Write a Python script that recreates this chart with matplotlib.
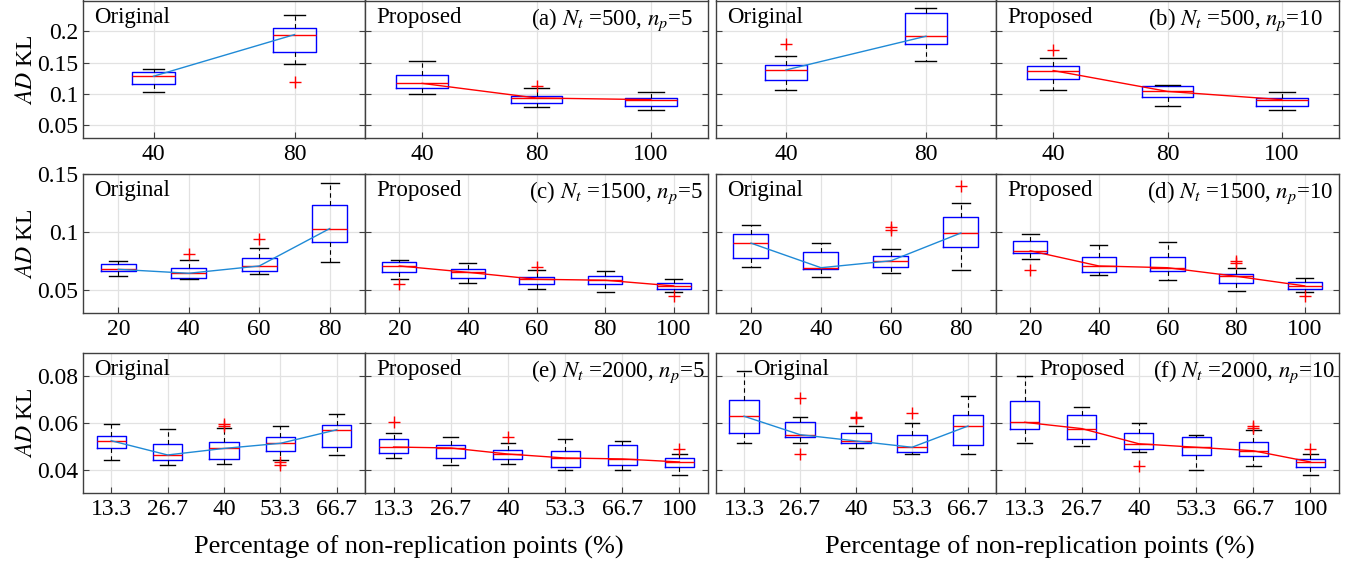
import numpy as np
import matplotlib
matplotlib.use('Agg')
import matplotlib.pyplot as plt

plt.rcParams['font.family'] = 'Liberation Serif'
plt.rcParams['mathtext.fontset'] = 'stix'

# box stats per box: [whisker low, q1, median, q3, whisker high]
# row 1 (Nt = 500)
a_orig_box = [[0.1032, 0.1158, 0.1284, 0.1348, 0.1400],
              [0.1474, 0.1663, 0.1947, 0.2047, 0.2258]]
a_orig_out = [[], [0.1185]]
a_prop_box = [[0.1000, 0.1090, 0.1170, 0.1310, 0.1520],
              [0.0790, 0.0858, 0.0937, 0.0974, 0.1095],
              [0.0748, 0.0816, 0.0911, 0.0932, 0.1032]]
a_prop_out = [[], [0.1132], []]
b_orig_box = [[0.1068, 0.1226, 0.1384, 0.1469, 0.1605],
              [0.1527, 0.1790, 0.1921, 0.2295, 0.2363]]
b_orig_out = [[0.1805], []]
b_prop_box = [[0.1069, 0.1237, 0.1374, 0.1453, 0.1580],
              [0.0811, 0.0947, 0.1042, 0.1121, 0.1137],
              [0.0748, 0.0811, 0.0911, 0.0932, 0.1032]]
b_prop_out = [[0.1695], [], []]

# row 2 (Nt = 1500)
c_orig_box = [[0.0620, 0.0666, 0.0677, 0.0720, 0.0749],
              [0.0591, 0.0606, 0.0643, 0.0686, 0.0760],
              [0.0637, 0.0666, 0.0706, 0.0771, 0.0857],
              [0.0737, 0.0914, 0.1029, 0.1229, 0.1423]]
c_orig_out = [[], [0.0811], [0.0940], []]
c_prop_box = [[0.0591, 0.0657, 0.0706, 0.0740, 0.0760],
              [0.0563, 0.0600, 0.0651, 0.0680, 0.0734],
              [0.0511, 0.0551, 0.0591, 0.0609, 0.0669],
              [0.0483, 0.0549, 0.0583, 0.0617, 0.0666],
              [0.0477, 0.0509, 0.0534, 0.0560, 0.0594]]
c_prop_out = [[0.0549], [], [0.0694], [], [0.0451]]
d_orig_box = [[0.0700, 0.0771, 0.0903, 0.0980, 0.1063],
              [0.0614, 0.0677, 0.0691, 0.0823, 0.0906],
              [0.0643, 0.0697, 0.0751, 0.0794, 0.0851],
              [0.0671, 0.0866, 0.0991, 0.1129, 0.1246]]
d_orig_out = [[], [], [0.1043, 0.1014], [0.1400]]
d_prop_box = [[0.0769, 0.0814, 0.0837, 0.0920, 0.0983],
              [0.0631, 0.0651, 0.0706, 0.0783, 0.0886],
              [0.0586, 0.0660, 0.0691, 0.0786, 0.0911],
              [0.0494, 0.0557, 0.0617, 0.0634, 0.0691],
              [0.0477, 0.0511, 0.0534, 0.0566, 0.0600]]
d_prop_out = [[0.0669], [], [], [0.0751, 0.0729], [0.0449]]

# row 3 (Nt = 2000)
e_orig_box = [[0.0443, 0.0493, 0.0524, 0.0544, 0.0597],
              [0.0421, 0.0443, 0.0463, 0.0511, 0.0574],
              [0.0426, 0.0447, 0.0491, 0.0517, 0.0579],
              [0.0440, 0.0481, 0.0513, 0.0539, 0.0587],
              [0.0463, 0.0497, 0.0571, 0.0591, 0.0640]]
e_orig_out = [[], [], [0.0597, 0.0586], [0.0432, 0.0422], []]
e_prop_box = [[0.0449, 0.0473, 0.0497, 0.0531, 0.0557],
              [0.0421, 0.0451, 0.0493, 0.0506, 0.0539],
              [0.0423, 0.0446, 0.0467, 0.0486, 0.0514],
              [0.0397, 0.0413, 0.0450, 0.0481, 0.0531],
              [0.0400, 0.0420, 0.0446, 0.0504, 0.0523],
              [0.0376, 0.0410, 0.0433, 0.0449, 0.0467]]
e_prop_out = [[0.0603], [], [0.0540], [], [], [0.0490]]
f_orig_box = [[0.0513, 0.0556, 0.0629, 0.0697, 0.0821],
              [0.0514, 0.0540, 0.0550, 0.0604, 0.0626],
              [0.0491, 0.0514, 0.0523, 0.0557, 0.0589],
              [0.0467, 0.0476, 0.0496, 0.0549, 0.0600],
              [0.0466, 0.0504, 0.0587, 0.0636, 0.0714]]
f_orig_out = [[], [0.0709, 0.0469], [0.0627, 0.0621], [0.0641], []]
f_prop_box = [[0.0514, 0.0573, 0.0603, 0.0694, 0.0803],
              [0.0500, 0.0531, 0.0576, 0.0634, 0.0670],
              [0.0476, 0.0490, 0.0511, 0.0559, 0.0601],
              [0.0397, 0.0463, 0.0496, 0.0540, 0.0549],
              [0.0417, 0.0457, 0.0481, 0.0517, 0.0571],
              [0.0376, 0.0410, 0.0433, 0.0447, 0.0466]]
f_prop_out = [[], [], [0.0414], [], [0.0589, 0.0579], [0.0489]]

# tick labels
x_row1_orig = ['40', '80']
x_row1_prop = ['40', '80', '100']
x_row2_orig = ['20', '40', '60', '80']
x_row2_prop = ['20', '40', '60', '80', '100']
x_row3_orig = ['13.3', '26.7', '40', '53.3', '66.7']
x_row3_prop = ['13.3', '26.7', '40', '53.3', '66.7', '100']

row_ylim = [(0.03, 0.249), (0.03, 0.15), (0.03, 0.09)]
row_yticks = [[0.05, 0.1, 0.15, 0.2], [0.05, 0.1, 0.15], [0.04, 0.06, 0.08]]

notes = ['(a) $N_t$ =500, $n_p$=5', '(b) $N_t$ =500, $n_p$=10',
         '(c) $N_t$ =1500, $n_p$=5', '(d) $N_t$ =1500, $n_p$=10',
         '(e) $N_t$ =2000, $n_p$=5', '(f) $N_t$ =2000, $n_p$=10']

panels = [
    [(a_orig_box, a_orig_out, x_row1_orig), (a_prop_box, a_prop_out, x_row1_prop),
     (b_orig_box, b_orig_out, x_row1_orig), (b_prop_box, b_prop_out, x_row1_prop)],
    [(c_orig_box, c_orig_out, x_row2_orig), (c_prop_box, c_prop_out, x_row2_prop),
     (d_orig_box, d_orig_out, x_row2_orig), (d_prop_box, d_prop_out, x_row2_prop)],
    [(e_orig_box, e_orig_out, x_row3_orig), (e_prop_box, e_prop_out, x_row3_prop),
     (f_orig_box, f_orig_out, x_row3_orig), (f_prop_box, f_prop_out, x_row3_prop)],
]

# layout in pixels
W, H = 1355, 564
col_left = [83, 365, 716, 996]
col_w = [282, 343, 280, 343]
row_top = [0.5, 174, 353]
row_bot = [138, 313, 493]
# box widths (data units) per row for orig / prop
box_w = [(0.30, 0.45), (0.5, 0.5), (0.52, 0.51)]
# label offsets in pixels from the panel edge
name_dx = [[11, 11, 11, 11], [11, 11, 11, 11], [11, 11, 37, 43]]
note_dx = [[15, 16], [5, 6], [3, 4]]

fig = plt.figure(figsize=(W / 100, H / 100), dpi=100)

for r in range(3):
    for c in range(4):
        boxes, outs, labels = panels[r][c]
        ax = fig.add_axes([col_left[c] / W, 1 - row_bot[r] / H,
                           col_w[c] / W, (row_bot[r] - row_top[r]) / H])
        is_orig = c % 2 == 0
        bw = box_w[r][0] if is_orig else box_w[r][1]
        stats = []
        for b, o in zip(boxes, outs):
            stats.append(dict(whislo=b[0], q1=b[1], med=b[2], q3=b[3],
                              whishi=b[4], fliers=o))
        pos = np.arange(1, len(boxes) + 1)
        ax.bxp(stats, positions=pos, widths=bw, capwidths=bw * 0.5,
               boxprops=dict(color='b', lw=1.0),
               medianprops=dict(color='r', lw=1.0),
               whiskerprops=dict(color='k', lw=0.8, linestyle=(0, (4, 3))),
               capprops=dict(color='k', lw=1.0),
               flierprops=dict(marker='+', markeredgecolor='r', markersize=9,
                               markeredgewidth=1.0, linestyle='none'),
               manage_ticks=False)
        meds = [b[2] for b in boxes]
        ax.plot(pos, meds, color='#1f8ad6' if is_orig else 'r', lw=1.0, zorder=5)

        ax.set_xlim(0.5, len(boxes) + 0.5)
        ax.set_ylim(row_ylim[r])
        ax.set_xticks(pos)
        ax.set_xticklabels(labels)
        ax.set_yticks(row_yticks[r])
        ax.set_yticklabels(['%g' % v for v in row_yticks[r]])
        ax.grid(True, color='#e2e2e2', lw=0.9)
        ax.set_axisbelow(True)
        ax.tick_params(direction='in', length=4, width=0.8, colors='#404040',
                       labelcolor='black', labelsize=17, top=False, right=True)
        ax.tick_params(axis='x', pad=4.5)
        ax.tick_params(axis='y', pad=3.5)
        if c != 0:
            ax.tick_params(labelleft=False)
        for s in ax.spines.values():
            s.set_color('#404040')
            s.set_linewidth(1.0)

        ax.annotate('Original' if is_orig else 'Proposed', xy=(0, 1),
                    xycoords='axes fraction', xytext=(name_dx[r][c] * 0.72, -4.5),
                    textcoords='offset points', ha='left', va='top', fontsize=16.5)
        if not is_orig:
            ax.annotate(notes[r * 2 + c // 2], xy=(1, 1), xycoords='axes fraction',
                        xytext=(-note_dx[r][c // 2] * 0.72, -4),
                        textcoords='offset points', ha='right', va='top',
                        fontsize=16.5)

    yc = (row_top[r] + row_bot[r]) / 2
    fig.text(27 / W, 1 - yc / H, '$AD$ KL', rotation=90, ha='center',
             va='center', fontsize=17)

fig.text(409 / W, 1 - 547 / H, 'Percentage of non-replication points (%)',
         ha='center', va='center', fontsize=19)
fig.text(1040 / W, 1 - 547 / H, 'Percentage of non-replication points (%)',
         ha='center', va='center', fontsize=19)

fig.savefig('out.png', dpi=100)
